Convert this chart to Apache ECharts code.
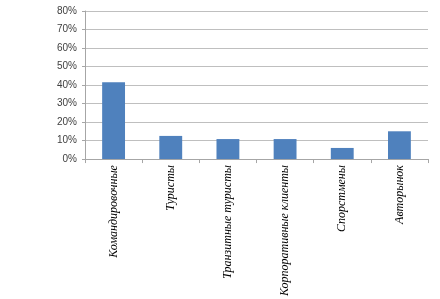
<!DOCTYPE html>
<html><head><meta charset="utf-8">
<script src="https://cdn.jsdelivr.net/npm/echarts@6/dist/echarts.min.js"></script>
<style>html,body{margin:0;padding:0;background:#fff}#c{width:440px;height:299px}</style>
</head><body><div id="c"></div>
<script>
const categories = ['Командировочные','Туристы','Транзитные туристы','Корпоративные клиенты','Спорстмены','Авторынок'];
const values = [41.5, 12.5, 10.8, 10.8, 6, 15];
const yTicks = [0,10,20,30,40,50,60,70,80];

const chart = echarts.init(document.getElementById('c'), null, {renderer:'canvas'});
chart.setOption({
  animation:false,
  grid:{left:85, right:12, top:11, bottom:137},
  xAxis:{
    type:'category', data:categories,
    axisLine:{lineStyle:{color:'#a6a6a6'}},
    axisTick:{show:true, length:4, lineStyle:{color:'#a6a6a6'}},
    axisLabel:{rotate:90, interval:0, margin:6, color:'#000', fontFamily:'Liberation Serif', fontStyle:'italic', fontSize:12}
  },
  yAxis:{
    type:'value', min:yTicks[0], max:yTicks[yTicks.length-1], interval:10,
    axisLine:{show:true, lineStyle:{color:'#a6a6a6'}},
    axisTick:{show:true, length:3, lineStyle:{color:'#a6a6a6'}},
    axisLabel:{formatter:'{value}%', color:'#404040', fontFamily:'Liberation Sans', fontSize:10, margin:8},
    splitLine:{lineStyle:{color:'#bfbfbf'}}
  },
  series:[{type:'bar', data:values, barWidth:'40%', itemStyle:{color:'#4f81bd'}}]
});
</script></body></html>
